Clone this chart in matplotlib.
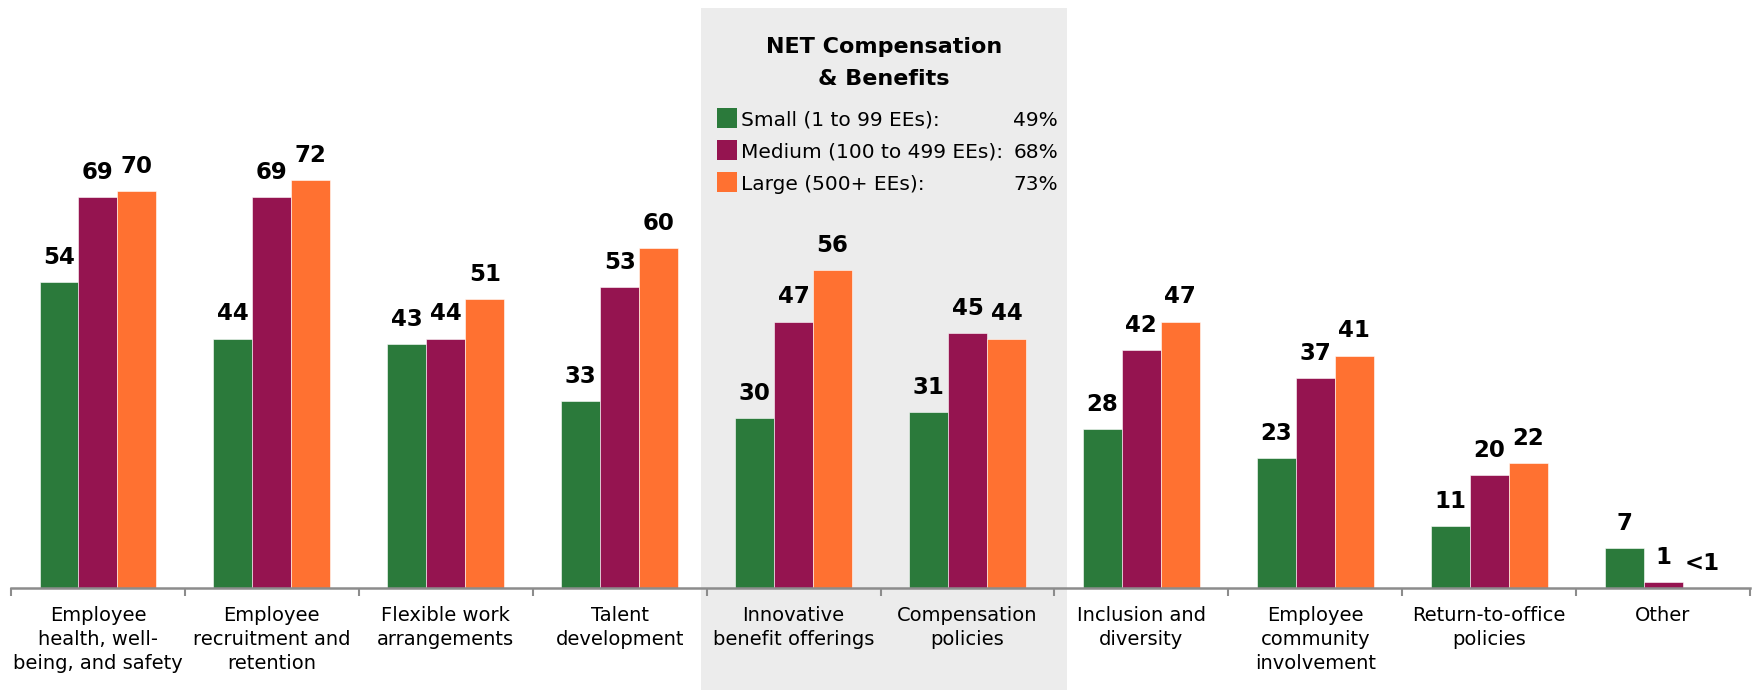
import matplotlib
matplotlib.use('Agg')
import matplotlib.pyplot as plt
import numpy as np
from matplotlib.patches import Rectangle
from matplotlib.transforms import blended_transform_factory

plt.rcParams['font.family'] = ['DejaVu Sans']

categories = ['Employee\nhealth, well-\nbeing, and safety',
              'Employee\nrecruitment and\nretention',
              'Flexible work\narrangements',
              'Talent\ndevelopment',
              'Innovative\nbenefit offerings',
              'Compensation\npolicies',
              'Inclusion and\ndiversity',
              'Employee\ncommunity\ninvolvement',
              'Return-to-office\npolicies',
              'Other']
small = [54, 44, 43, 33, 30, 31, 28, 23, 11, 7]
medium = [69, 69, 44, 53, 47, 45, 42, 37, 20, 1]
large = [70, 72, 51, 60, 56, 44, 47, 41, 22, 0]
large_labels = ['70', '72', '51', '60', '56', '44', '47', '41', '22', '<1']

legend_names = ['Small (1 to 99 EEs):', 'Medium (100 to 499 EEs):', 'Large (500+ EEs):']
net_comp = ['49%', '68%', '73%']
colors = ['#2b7a3b', '#951450', '#ff7131']

W, H = 1756, 690
fig = plt.figure(figsize=(W / 100, H / 100), dpi=100)
ax = fig.add_axes([11 / W, (H - 588) / H, (1750 - 11) / W, 588 / H])

ind = np.arange(len(categories))
bw = 0.224
series = [(small, [str(v) for v in small]),
          (medium, [str(v) for v in medium]),
          (large, large_labels)]
for k, (vals, labs) in enumerate(series):
    x = ind + (k - 1) * bw
    ax.bar(x, vals, bw, color=colors[k], edgecolor='white', linewidth=0.4, zorder=2)
    for xi, v, t in zip(x, vals, labs):
        ax.annotate(t, (xi, v), xytext=(0, 13), textcoords='offset points',
                    ha='center', va='baseline', fontsize=16.5, fontweight='bold',
                    color='black', zorder=3)

# shaded block behind the compensation & benefits items, down to the page edge
tr = blended_transform_factory(ax.transData, fig.transFigure)
ax.add_patch(Rectangle((3.47, 0), 2.1, 1 - 8 / H, transform=tr, clip_on=False,
                       facecolor='#ececec', edgecolor='none', zorder=0))

ax.set_xlim(-0.5, 9.5)
ax.set_ylim(0, 588 / 5.67)
ax.patch.set_alpha(0)
for s in ['top', 'right', 'left']:
    ax.spines[s].set_visible(False)
ax.spines['bottom'].set_color('#8c8c8c')
ax.spines['bottom'].set_linewidth(1.8)
ax.set_yticks([])
ax.set_xticks(ind)
ax.set_xticklabels(categories, fontsize=14, linespacing=1.32)
ax.tick_params(axis='x', which='major', length=0, pad=13)
ax.set_xticks(np.arange(-0.5, 10, 1), minor=True)
ax.tick_params(axis='x', which='minor', length=6, width=1.5, color='#8c8c8c')

# legend block
def fx(px):
    return px / W

def fy(py):
    return 1 - py / H

fig.text(fx(884), fy(53), 'NET Compensation', ha='center', va='baseline',
         fontsize=16, fontweight='bold')
fig.text(fx(884), fy(85), '& Benefits', ha='center', va='baseline',
         fontsize=16, fontweight='bold')
for i, (name, pct) in enumerate(zip(legend_names, net_comp)):
    top = 108 + 32 * i
    fig.patches.append(Rectangle((fx(717), fy(top + 20)), 20 / W, 20 / H,
                                 transform=fig.transFigure, facecolor=colors[i],
                                 edgecolor='none'))
    fig.text(fx(741), fy(top + 18), name, ha='left', va='baseline', fontsize=14.5)
    fig.text(fx(1058), fy(top + 18), pct, ha='right', va='baseline', fontsize=14.5)

fig.savefig('out.png', dpi=100)
